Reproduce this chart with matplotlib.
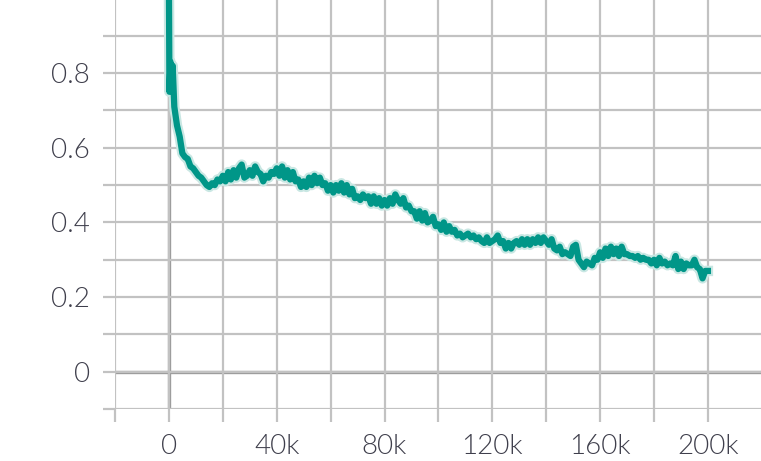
import numpy as np
import matplotlib.pyplot as plt
from matplotlib.ticker import MultipleLocator, FuncFormatter

# training steps: a few early points, then one every 1k
steps = [0, 200, 600, 1000, 1400] + list(range(2000, 201000, 1000))

values = [1.05, 0.75, 0.83, 0.76, 0.82,
          0.71, 0.66, 0.63, 0.585, 0.575, 0.57, 0.55, 0.545,
          0.535, 0.525, 0.52, 0.51, 0.50, 0.495, 0.505, 0.50, 0.515, 0.51,
          0.525, 0.51, 0.535, 0.515, 0.54, 0.52, 0.545, 0.555, 0.52, 0.525,
          0.54, 0.525, 0.55, 0.535, 0.53, 0.51, 0.525, 0.52, 0.535, 0.53,
          0.545, 0.525, 0.55, 0.52, 0.54, 0.515, 0.535, 0.51, 0.515, 0.495,
          0.51, 0.495, 0.52, 0.50, 0.525, 0.505, 0.52, 0.50, 0.505, 0.485,
          0.50, 0.48, 0.50, 0.485, 0.505, 0.48, 0.50, 0.475, 0.49, 0.465,
          0.47, 0.46, 0.475, 0.465, 0.47, 0.45, 0.47, 0.45, 0.465, 0.445,
          0.46, 0.445, 0.465, 0.45, 0.475, 0.46, 0.45, 0.465, 0.44, 0.445,
          0.43, 0.43, 0.41, 0.43, 0.405, 0.425, 0.40, 0.405, 0.415, 0.39,
          0.395, 0.38, 0.40, 0.375, 0.39, 0.375, 0.38, 0.365, 0.37, 0.36,
          0.365, 0.37, 0.36, 0.365, 0.355, 0.36, 0.35, 0.345, 0.36, 0.345,
          0.35, 0.355, 0.365, 0.345, 0.35, 0.33, 0.345, 0.33, 0.345, 0.35,
          0.34, 0.355, 0.34, 0.355, 0.34, 0.355, 0.345, 0.36, 0.345, 0.36,
          0.35, 0.34, 0.355, 0.33, 0.325, 0.335, 0.315, 0.32, 0.315, 0.31,
          0.335, 0.34, 0.30, 0.29, 0.28, 0.295, 0.29, 0.285, 0.305, 0.30,
          0.32, 0.305, 0.33, 0.31, 0.335, 0.315, 0.33, 0.31, 0.335, 0.315,
          0.315, 0.31, 0.31, 0.305, 0.31, 0.30, 0.305, 0.30, 0.30, 0.29,
          0.30, 0.285, 0.305, 0.29, 0.295, 0.285, 0.29, 0.285, 0.31, 0.275,
          0.295, 0.275, 0.29, 0.285, 0.285, 0.30, 0.28, 0.275, 0.25, 0.27,
          0.27]

plt.rcParams['font.family'] = ['Lato', 'DejaVu Sans']

fig = plt.figure(figsize=(7.61, 4.61), dpi=100)
ax = fig.add_axes([115/761, 52/461, 646/761, 409/461])

ax.plot(steps, values, color='#c9e7e3', lw=7.5, zorder=3)
ax.plot(steps, values, color='#009688', lw=4.5, zorder=4)

ax.set_xlim(-20000, 219700)
ax.set_ylim(-0.1, 0.996)

ax.xaxis.set_major_locator(MultipleLocator(40000))
ax.xaxis.set_minor_locator(MultipleLocator(20000))
ax.yaxis.set_major_locator(MultipleLocator(0.2))
ax.yaxis.set_minor_locator(MultipleLocator(0.1))

ax.xaxis.set_major_formatter(FuncFormatter(lambda v, p: '0' if v == 0 else '%dk' % round(v/1000)))
ax.yaxis.set_major_formatter(FuncFormatter(lambda v, p: '0' if abs(v) < 1e-9 else '%.1f' % v))

ax.grid(True, which='both', color='#c2c2c2', lw=1.6, zorder=0)
ax.axhline(0, color='#999999', lw=2.4, zorder=1)
ax.axvline(0, color='#999999', lw=2.4, zorder=1)

for s in ax.spines.values():
    s.set_visible(False)

ax.tick_params(which='both', length=9, width=1.6, color='#c2c2c2', direction='out')
ax.tick_params(which='major', labelsize=20, labelcolor='#3f3f4c', pad=9)
for lab in ax.get_xticklabels() + ax.get_yticklabels():
    lab.set_fontweight(300)

fig.savefig('out.png', dpi=100)
